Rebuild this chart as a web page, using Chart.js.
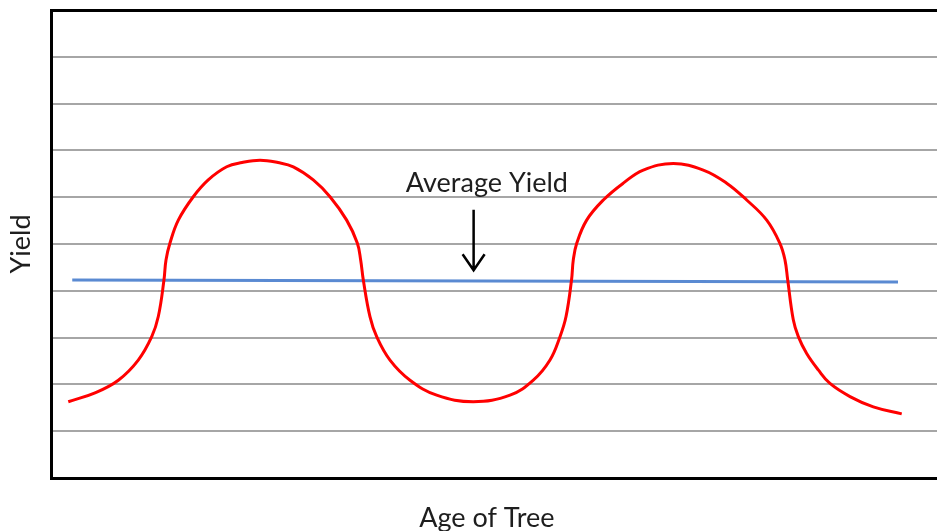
<!DOCTYPE html>
<html>
<head>
<meta charset="utf-8">
<script src="https://cdn.jsdelivr.net/npm/chart.js@4/dist/chart.umd.min.js"></script>
<style>
  html, body { margin: 0; padding: 0; background: #fff; }
  #wrap { width: 937px; height: 531px; overflow: hidden; }
</style>
</head>
<body>
<div id="wrap"><canvas id="yieldChart" width="937" height="531"></canvas></div>
<script>
//yield curve (age of tree, yield)
const curveAge = [
    1.95, 4.97, 7.60, 9.85, 11.37, 12.11, 12.75, 12.98, 13.43, 14.37, 16.06, 17.75, 19.83,
    21.56, 23.59, 25.62, 27.35, 29.60, 31.49, 33.37, 34.57, 34.95, 35.25, 36.00, 36.76,
    38.26, 40.52, 43.53, 47.66, 51.81, 54.44, 56.32, 57.45, 58.13, 58.75, 58.95, 59.33,
    60.46, 62.34, 64.59, 66.85, 70.24, 73.62, 76.26, 78.52, 80.78, 82.28, 82.84, 83.15,
    83.78, 84.35, 85.29, 86.60, 87.92, 90.18, 92.81, 96.02];
const curveYield = [
    1.63, 1.82, 2.09, 2.52, 3.02, 3.45, 4.23, 4.66, 5.02, 5.51, 6.01, 6.37, 6.65,
    6.74, 6.79, 6.74, 6.65, 6.37, 6.01, 5.51, 5.02, 4.66, 4.23, 3.45, 3.02,
    2.52, 2.09, 1.77, 1.63, 1.77, 2.09, 2.52, 3.02, 3.45, 4.23, 4.66, 5.01,
    5.51, 5.94, 6.30, 6.58, 6.72, 6.58, 6.30, 5.94, 5.51, 5.01, 4.66, 4.23,
    3.38, 3.02, 2.66, 2.31, 2.02, 1.74, 1.52, 1.37];

//average yield line
const avgAge = [2.4, 95.6];
const avgYield = [4.23, 4.19];

//axis range (no tick labels are shown)
const ageRange = [0, 100];
const yieldRange = [0, 10];

const textFont = '27px Lato';

function toPoints(xs, ys) {
    return xs.map((x, i) => ({ x: x, y: ys[i] }));
}

//labels and arrow drawn on top of the chart
const notes = {
    id: 'notes',
    afterDraw(chart) {
        const ctx = chart.ctx;
        const x = chart.scales.x;
        const y = chart.scales.y;
        ctx.save();
        ctx.fillStyle = '#1e1e1e';
        ctx.font = textFont;
        ctx.textAlign = 'center';
        ctx.textBaseline = 'alphabetic';
        ctx.fillText('Average Yield', x.getPixelForValue(49.2), y.getPixelForValue(6.11));
        ctx.fillText('Age of Tree', x.getPixelForValue(49.2), chart.height - 4);

        //arrow
        const ax = x.getPixelForValue(47.7);
        const top = y.getPixelForValue(5.73);
        const tip = y.getPixelForValue(4.44);
        ctx.strokeStyle = '#000';
        ctx.lineWidth = 2.5;
        ctx.beginPath();
        ctx.moveTo(ax, top);
        ctx.lineTo(ax, tip);
        ctx.moveTo(ax - 11, tip - 16);
        ctx.lineTo(ax, tip);
        ctx.lineTo(ax + 11, tip - 16);
        ctx.stroke();
        ctx.restore();
    }
};

var ctx = document.getElementById('yieldChart').getContext('2d');
new Chart(ctx, {
    type: 'line',
    data: {
        datasets: [{
            label: 'Yield',
            data: toPoints(curveAge, curveYield),
            borderColor: 'rgb(255, 0, 0)',
            borderWidth: 3,
            pointRadius: 0,
            tension: 0.4,
            fill: false
        }, {
            label: 'Average Yield',
            data: toPoints(avgAge, avgYield),
            borderColor: '#5a8ad2',
            borderWidth: 3,
            pointRadius: 0,
            tension: 0,
            fill: false
        }]
    },
    options: {
        responsive: false,
        animation: false,
        layout: { padding: 0 },
        plugins: {
            legend: { display: false },
            tooltip: { enabled: false }
        },
        scales: {
            x: {
                type: 'linear',
                min: ageRange[0],
                max: ageRange[1],
                ticks: { display: false },
                grid: { display: false },
                border: { display: true, color: '#000', width: 3 },
                afterFit: function (scale) { scale.height = 53; }
            },
            xTop: {
                type: 'linear',
                position: 'top',
                display: true,
                min: ageRange[0],
                max: ageRange[1],
                ticks: { display: false },
                grid: { display: false },
                border: { display: true, color: '#000', width: 3 },
                afterFit: function (scale) { scale.height = 10; }
            },
            y: {
                min: yieldRange[0],
                max: yieldRange[1],
                ticks: { display: false, stepSize: 1 },
                grid: { color: '#a6a6a6', lineWidth: 2, drawTicks: false },
                border: { display: true, color: '#000', width: 3 },
                title: {
                    display: true,
                    text: 'Yield',
                    color: '#1e1e1e',
                    font: { family: 'Lato', size: 27, lineHeight: 1 },
                    padding: { top: 8, bottom: 0 }
                },
                afterFit: function (scale) { scale.width = 51; }
            }
        }
    },
    plugins: [notes]
});
</script>
</body>
</html>
